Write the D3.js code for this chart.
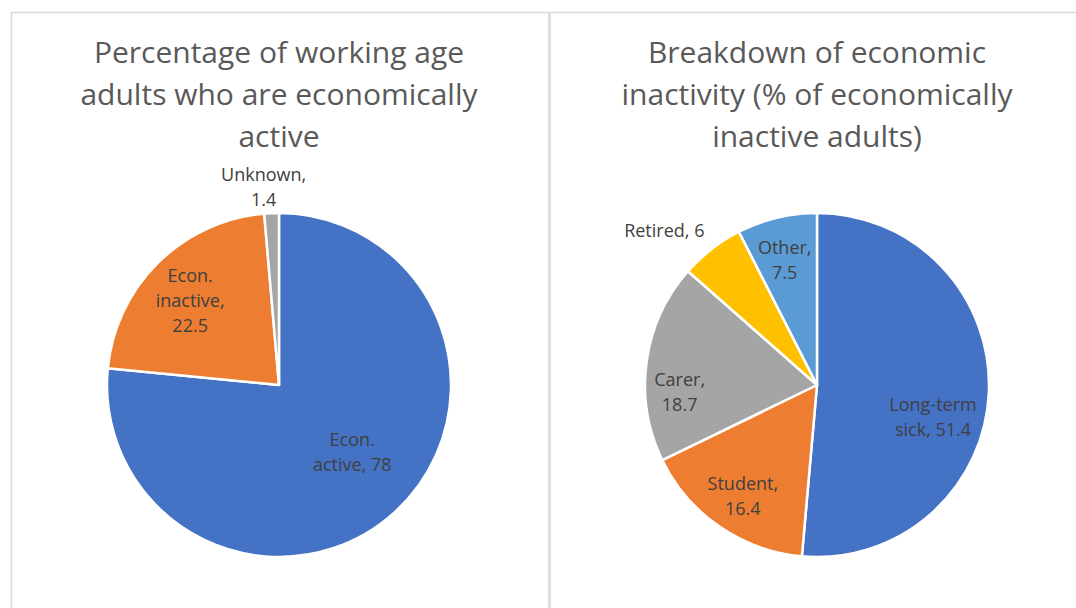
<!DOCTYPE html>
<html>
<head>
<meta charset="utf-8">
<script src="https://cdnjs.cloudflare.com/ajax/libs/d3/7.8.5/d3.min.js"></script>
<style>
    html, body { margin: 0; padding: 0; background: #fff; }
    text { font-family: "Open Sans", "Noto Sans", sans-serif; }
</style>
</head>
<body>
<svg id="chart" width="1076" height="608"></svg>
<script>
'use strict';

// left chart
var activeTitle = ['Percentage of working age', 'adults who are economically', 'active'];
var activeCategories = ['Econ. active', 'Econ. inactive', 'Unknown'];
var activeValues = [78, 22.5, 1.4];
var activeLabels = [['Econ.', 'active, 78'], ['Econ.', 'inactive,', '22.5'], ['Unknown,', '1.4']];
var activeColors = ['#4472C4', '#ED7D31', '#A5A5A5'];

// right chart
var inactiveTitle = ['Breakdown of economic', 'inactivity (% of economically', 'inactive adults)'];
var inactiveCategories = ['Long-term sick', 'Student', 'Carer', 'Retired', 'Other'];
var inactiveValues = [51.4, 16.4, 18.7, 6, 7.5];
var inactiveLabels = [['Long-term', 'sick, 51.4'], ['Student,', '16.4'], ['Carer,', '18.7'], ['Retired, 6'], ['Other,', '7.5']];
var inactiveColors = ['#4472C4', '#ED7D31', '#A5A5A5', '#FFC000', '#5B9BD5'];

// where excel's "best fit" put each label: fraction of radius, angle nudge in degrees
var activeLabelFit = [{ k: 0.58, da: -5 }, { k: 0.71, da: -2 }, { k: 1.15, da: -2 }];
var inactiveLabelFit = [{ k: 0.70, da: 13 }, { k: 0.78, da: -1 }, { k: 0.80, da: -11 }, { k: 1.26, da: -7 }, { k: 0.75, da: -1 }];

var svg = d3.select('#chart');

// chart frames
var frame = svg.append('g')
    .attr('fill', 'none')
    .attr('stroke', '#d9d9d9')
    .attr('stroke-width', 1.5);
frame.append('rect').attr('x', 11.5).attr('y', 12.5).attr('width', 537.5).attr('height', 620);
frame.append('rect').attr('x', 550).attr('y', 12.5).attr('width', 540).attr('height', 620);

function drawPie( cx, title, categories, values, labels, colors, fit ){
    var radius = 172,
        cy = 385,
        g = svg.append('g'),
        pie = d3.pie().sort(null).value(function( d ){ return d; }),
        arc = d3.arc().innerRadius(0).outerRadius(radius),
        slices = pie(values);

    g.selectAll('text.title')
        .data(title)
        .enter().append('text')
        .attr('class', 'title')
        .attr('x', cx)
        .attr('y', function( d, i ){ return 63 + i * 42; })
        .attr('text-anchor', 'middle')
        .attr('fill', '#595959')
        .style('font-size', '30px')
        .text(function( d ){ return d; });

    var $pie = g.append('g').attr('transform', 'translate(' + cx + ',' + cy + ')');

    $pie.selectAll('path')
        .data(slices)
        .enter().append('path')
        .attr('d', arc)
        .attr('fill', function( d, i ){ return colors[i]; })
        .attr('stroke', '#fff')
        .attr('stroke-width', 2.5)
        .attr('stroke-linejoin', 'round')
        .append('title')
        .text(function( d, i ){ return categories[i] + ': ' + values[i]; });

    var lineH = 25;
    $pie.selectAll('text.label')
        .data(slices)
        .enter().append('text')
        .attr('class', 'label')
        .attr('text-anchor', 'middle')
        .attr('fill', '#404040')
        .style('font-size', '18px')
        .each(function( d, i ){
            var a = (d.startAngle + d.endAngle) / 2 + fit[i].da * Math.PI / 180,
                r = radius * fit[i].k,
                x = Math.sin(a) * r,
                y = -Math.cos(a) * r,
                lines = labels[i],
                top = y - (lines.length - 1) * lineH / 2 + 6;

            d3.select(this).selectAll('tspan')
                .data(lines)
                .enter().append('tspan')
                .attr('x', x)
                .attr('y', function( l, j ){ return top + j * lineH; })
                .text(function( l ){ return l; });
        });
}

drawPie(279, activeTitle, activeCategories, activeValues, activeLabels, activeColors, activeLabelFit);
drawPie(817, inactiveTitle, inactiveCategories, inactiveValues, inactiveLabels, inactiveColors, inactiveLabelFit);
</script>
</body>
</html>
